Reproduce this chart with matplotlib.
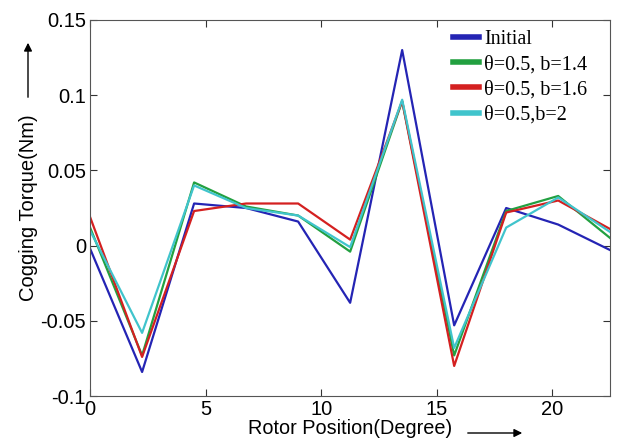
import matplotlib
matplotlib.use("Agg")
import matplotlib.pyplot as plt

# rotor position, degrees
position = [0, 2.25, 4.5, 6.75, 9, 11.25, 13.5, 15.75, 18, 20.25, 22.5]

initial = [-0.002, -0.084, 0.028, 0.025, 0.016, -0.038, 0.130, -0.053, 0.025, 0.014, -0.003]
b14 = [0.012, -0.073, 0.042, 0.026, 0.020, -0.004, 0.096, -0.073, 0.023, 0.033, 0.005]
b16 = [0.019, -0.074, 0.023, 0.028, 0.028, 0.004, 0.096, -0.080, 0.022, 0.030, 0.011]
b20 = [0.010, -0.058, 0.040, 0.025, 0.020, -0.001, 0.097, -0.068, 0.012, 0.032, 0.009]

labels = ["Initial", "θ=0.5, b=1.4", "θ=0.5, b=1.6", "θ=0.5,b=2"]
colors = ["#2424b4", "#22a040", "#d42020", "#40c4cc"]

fig = plt.figure(figsize=(6.17, 4.44), dpi=100)
ax = fig.add_axes([0.146, 0.108, 0.843, 0.847])

for ys, lab, c in zip([initial, b14, b16, b20], labels, colors):
    ax.plot(position, ys, color=c, lw=1.6, label=lab)

ax.set_xlim(0, 22.5)
ax.set_ylim(-0.1, 0.15)
ax.set_xticks([0, 5, 10, 15, 20])
ax.set_yticks([-0.1, -0.05, 0, 0.05, 0.1, 0.15])
ax.set_yticklabels(["-0.1", "-0.05", "0", "0.05", "0.1", "0.15"])
ax.tick_params(direction="in", top=True, right=True, labelsize=14.5, length=5,
               color="#333333", pad=3)
for sp in ax.spines.values():
    sp.set_color("#555555")
for t in ax.get_xticklabels() + ax.get_yticklabels():
    t.set_family("Liberation Sans")

ax.set_xlabel("Rotor Position(Degree)", fontsize=14.3, family="Liberation Sans", labelpad=0)
ax.set_ylabel("Cogging Torque(Nm)", fontsize=14.5, family="Liberation Sans", labelpad=2)

leg = ax.legend(loc="upper right", frameon=False, prop={"family": "Liberation Serif", "size": 14.5},
                handlelength=1.3, handletextpad=0.25, labelspacing=0.3,
                borderaxespad=0.1, bbox_to_anchor=(0.975, 1.0))
for h in leg.get_lines():
    h.set_linewidth(4)

# arrows next to axis labels
fig.patches.append(matplotlib.patches.FancyArrowPatch(
    (28 / 617, 1 - 100 / 444), (28 / 617, 1 - 40 / 444), transform=fig.transFigure,
    arrowstyle="-|>", mutation_scale=12, color="black", lw=1.0))
fig.patches.append(matplotlib.patches.FancyArrowPatch(
    (465 / 617, 1 - 433 / 444), (525 / 617, 1 - 433 / 444), transform=fig.transFigure,
    arrowstyle="-|>", mutation_scale=12, color="black", lw=1.0))

fig.savefig("out.png", dpi=100)
